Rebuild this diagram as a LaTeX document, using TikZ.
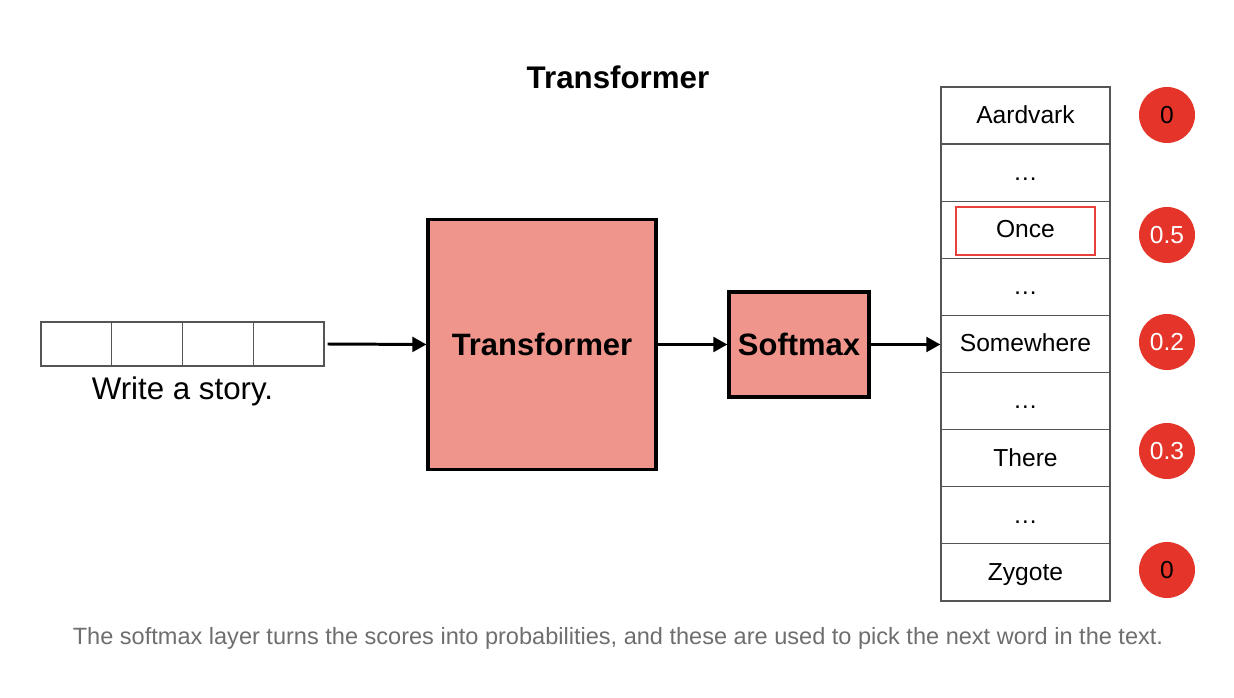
\documentclass[tikz,border=0pt]{standalone}
\usepackage{fontspec}
\setmainfont{Liberation Sans}
\usetikzlibrary{arrows.meta}
\definecolor{boxpink}{HTML}{F0958C}
\definecolor{dotred}{HTML}{E5352A}
\definecolor{capgray}{HTML}{6E6E6E}
\definecolor{cellgray}{HTML}{555555}
\definecolor{hlred}{HTML}{E8403A}

\tikzset{
  block/.style={draw=black,line width=0.9pt,fill=boxpink,inner sep=0pt,font=\fontsize{8.8}{11}\selectfont\bfseries},
  cell/.style={draw=cellgray,line width=0.35pt,minimum width=0.7075cm,minimum height=0.44cm,inner sep=0pt},
  word/.style={draw=cellgray,line width=0.35pt,minimum width=1.69cm,minimum height=0.5711cm,inner sep=0pt,
    text height=1.2ex,text depth=0.35ex,font=\fontsize{7}{8}\selectfont},
  prob/.style={circle,fill=dotred,minimum size=0.56cm,inner sep=0pt,font=\fontsize{7}{8}\selectfont},
  flow/.style={-{Triangle[length=4pt,width=4.2pt]},line width=0.85pt},
}

\begin{document}
\begin{tikzpicture}
\useasboundingbox (0,0) rectangle (12.34,6.98);
\node[font=\fontsize{8.9}{11}\selectfont\bfseries] (title) at (6.18,6.21) {Transformer};
% prompt tokens
\foreach \i in {1,...,4}
  \node[cell] (c\i) at ({0.41+0.7075*(\i-0.5)},3.54) {};
\node[anchor=base,font=\fontsize{8.9}{11}\selectfont] (prompt) at (1.825,2.98) {Write a story.};
\node[block,minimum width=2.28cm,minimum height=2.5cm] (tf) at (5.42,3.535) {Transformer};
\node[block,minimum width=1.40cm,minimum height=1.05cm] (sm) at (7.99,3.535) {Softmax};
% vocabulary
\foreach \w [count=\i] in {Aardvark,\ldots,Once,\ldots,Somewhere,\ldots,There,\ldots,Zygote}
  \node[word] (w\i) at (10.255,{6.11-0.5711*(\i-0.5)}) {\w};
\node[draw=hlred,line width=0.6pt,minimum width=1.39cm,minimum height=0.48cm] (pick) at ([yshift=-0.01cm]w3) {};
% probabilities
\foreach \p/\y/\c [count=\i] in {0/5.83/black,0.5/4.63/white,0.2/3.56/white,0.3/2.47/white,0/1.28/black}
  \node[prob,text=\c] (p\i) at (11.67,\y) {\p};
\draw[flow] ([xshift=0.03cm]c4.east) -- (tf.west);
\draw[flow] (tf.east) -- (sm.west);
\draw[flow] (sm.east) -- (sm.east -| w5.west);
\node[anchor=base,text=capgray,font=\fontsize{6.7}{8}\selectfont] (caption) at (6.18,0.53) {The softmax layer turns the scores into probabilities, and these are used to pick the next word in the text.};
\end{tikzpicture}
\end{document}
